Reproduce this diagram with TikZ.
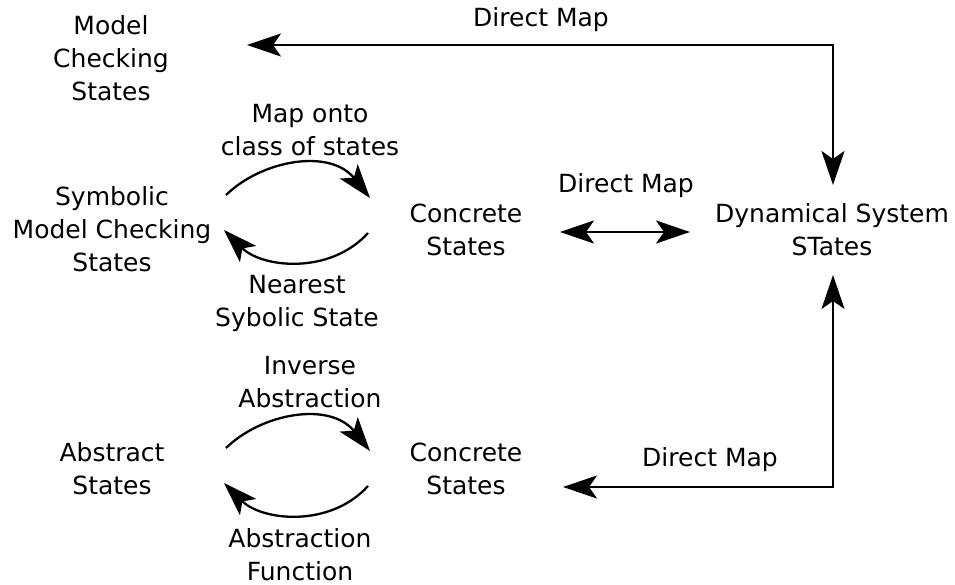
\documentclass[tikz,border=0pt]{standalone}
\usepackage{fontspec}
\setmainfont{DejaVu Sans}
\usetikzlibrary{arrows.meta}
\begin{document}
\begin{tikzpicture}[x=1pt,y=-1pt,line width=2.3pt,font=\fontsize{25}{33}\selectfont,
  lbl/.style={align=center,inner sep=1pt},
  tip/.style={-{Stealth[length=34pt,width=23pt,inset=8pt]}},
  tips/.style={{Stealth[length=34pt,width=23pt,inset=8pt]}-{Stealth[length=34pt,width=23pt,inset=8pt]}}]
\useasboundingbox (0,0) rectangle (955,585);
\node[lbl] (mcs) at (111,58) {Model\\Checking\\States};
\node[lbl] (smcs) at (112,229) {Symbolic\\Model Checking\\States};
\node[lbl] (cs1) at (466,230) {Concrete\\States};
\node[lbl] (dss) at (832,230) {Dynamical System\\STates};
\node[lbl] (as) at (112,469) {Abstract\\States};
\node[lbl] (cs2) at (466,469) {Concrete\\States};
\node[lbl] (dm1) at (541,20) {Direct Map};
\node[lbl] (mo) at (310,130) {Map onto\\class of states};
\node[lbl] (dm2) at (626,186) {Direct Map};
\node[lbl] (nss) at (297,303) {Nearest\\Sybolic State};
\node[lbl] (ia) at (310,382) {Inverse\\Abstraction};
\node[lbl] (dm3) at (710,460) {Direct Map};
\node[lbl] (af) at (300,555) {Abstraction\\Function};
\coordinate (mcsR) at (247,45);
\coordinate (dssT) at (833,185);
\coordinate (dssL) at (690,232);
\coordinate (dssB) at (833,275);
\coordinate (cs1R) at (560,232);
\coordinate (cs2R) at (563,487);
\coordinate (smcsA) at (226,195);
\coordinate (smcsB) at (224,230);
\coordinate (cs1A) at (370,198);
\coordinate (cs1B) at (368,233);
\coordinate (asA) at (226,448);
\coordinate (asB) at (224,483);
\coordinate (cs2A) at (370,451);
\coordinate (cs2B) at (368,486);
\draw[tips] (mcsR) -| (dssT);
\draw[tips] (cs1R) -- (dssL);
\draw[tips] (cs2R) -| (dssB);
\draw[tip] (smcsA) .. controls (262,160) and (330,148) .. (cs1A);
\draw[tip] (cs1B) .. controls (330,275) and (262,268) .. (smcsB);
\draw[tip] (asA) .. controls (262,413) and (330,401) .. (cs2A);
\draw[tip] (cs2B) .. controls (330,528) and (262,521) .. (asB);
\end{tikzpicture}
\end{document}
